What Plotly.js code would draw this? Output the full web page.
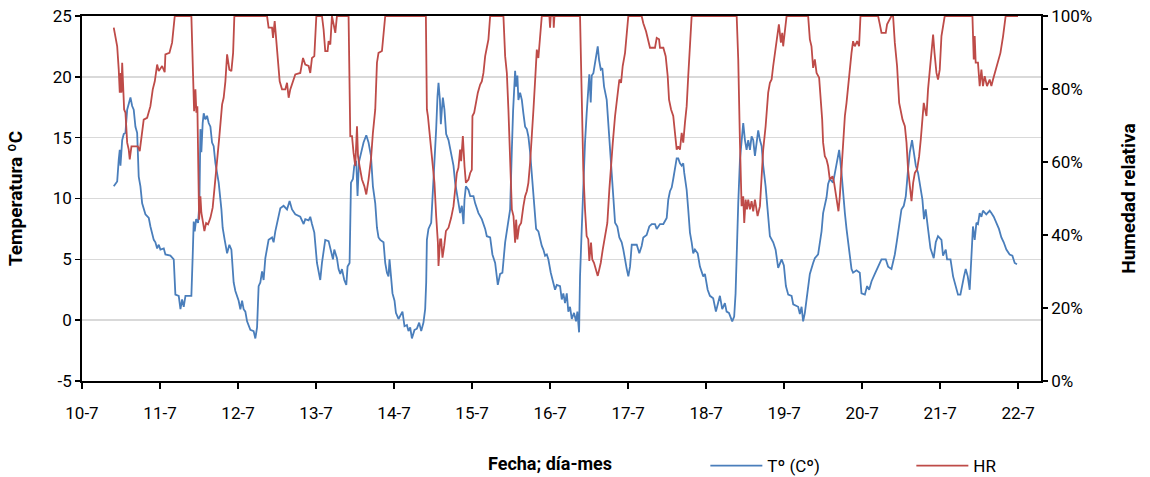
<!DOCTYPE html>
<html>
<head>
<meta charset="utf-8">
<script src="https://cdn.plot.ly/plotly-3.0.1.min.js"></script>
<style>
  html, body { margin: 0; padding: 0; background: #ffffff; }
  #chart { width: 1150px; height: 477px; }
</style>
</head>
<body>
<div id="chart"></div>
<script>
// Logger readings, 10-7 to 22-7. Time is given in days after 10-7 00:00.
const tempDay = [
  0.407,0.451,0.471,0.484,0.493,0.515,0.535,0.557,0.579,0.599,0.621,0.643,0.663,0.685,0.707,0.727,0.749,0.771,0.813,0.856,
  0.877,0.920,0.941,0.963,0.984,1.005,1.048,1.069,1.133,1.176,1.197,1.240,1.262,1.283,1.304,1.326,1.402,1.419,1.432,1.445,
  1.463,1.488,1.505,1.518,1.530,1.547,1.560,1.582,1.603,1.624,1.646,1.667,1.688,1.710,1.752,1.787,1.803,1.829,1.860,1.889,
  1.915,1.944,1.966,2.008,2.030,2.052,2.072,2.094,2.116,2.158,2.200,2.222,2.244,2.264,2.286,2.308,2.328,2.350,2.372,2.392,
  2.436,2.456,2.478,2.500,2.520,2.542,2.584,2.628,2.661,2.692,2.734,2.798,2.841,2.862,2.905,2.926,2.948,2.978,3.012,3.033,
  3.054,3.076,3.097,3.118,3.161,3.183,3.217,3.234,3.268,3.289,3.311,3.332,3.362,3.388,3.404,3.430,3.448,3.473,3.490,3.515,
  3.532,3.550,3.576,3.609,3.644,3.673,3.704,3.729,3.759,3.781,3.801,3.823,3.865,3.887,3.909,3.929,3.942,3.964,3.980,4.006,
  4.024,4.057,4.092,4.108,4.134,4.165,4.185,4.207,4.229,4.262,4.293,4.322,4.348,4.377,4.399,4.412,4.421,4.441,4.476,4.493,
  4.518,4.540,4.557,4.570,4.588,4.600,4.613,4.626,4.646,4.668,4.698,4.732,4.762,4.783,4.818,4.847,4.869,4.890,4.903,4.921,
  4.954,4.976,5.018,5.040,5.082,5.125,5.168,5.189,5.232,5.261,5.296,5.330,5.360,5.389,5.424,5.458,5.488,5.510,5.526,5.552,
  5.565,5.581,5.594,5.616,5.638,5.658,5.680,5.702,5.722,5.744,5.766,5.795,5.821,5.850,5.872,5.894,5.914,5.936,5.958,5.978,
  6.009,6.035,6.064,6.086,6.128,6.150,6.170,6.192,6.214,6.234,6.256,6.278,6.307,6.333,6.350,6.372,6.384,6.406,6.426,6.448,
  6.469,6.490,6.503,6.521,6.534,6.555,6.576,6.598,6.611,6.628,6.650,6.670,6.692,6.726,6.747,6.769,6.790,6.811,6.833,6.862,
  6.888,6.918,6.939,6.961,6.983,7.003,7.025,7.047,7.111,7.144,7.174,7.195,7.238,7.272,7.303,7.345,7.367,7.409,7.452,7.495,
  7.515,7.537,7.559,7.579,7.601,7.623,7.643,7.665,7.687,7.707,7.720,7.751,7.771,7.793,7.815,7.835,7.857,7.892,7.921,7.963,
  7.985,8.020,8.049,8.091,8.126,8.155,8.177,8.207,8.241,8.263,8.293,8.335,8.360,8.378,8.395,8.412,8.434,8.455,8.476,8.498,
  8.519,8.540,8.562,8.583,8.604,8.626,8.648,8.668,8.690,8.712,8.732,8.763,8.788,8.818,8.860,8.891,8.924,8.968,8.997,9.023,
  9.053,9.096,9.117,9.180,9.202,9.224,9.244,9.266,9.288,9.308,9.330,9.372,9.394,9.436,9.458,9.480,9.500,9.522,9.544,9.564,
  9.586,9.628,9.650,9.680,9.706,9.736,9.757,9.779,9.800,9.820,9.842,9.864,9.884,9.928,9.970,9.992,10.035,10.064,10.090,10.121,
  10.163,10.205,10.248,10.303,10.333,10.376,10.419,10.448,10.483,10.504,10.534,10.560,10.589,10.611,10.640,10.662,10.688,10.717,10.748,10.773,
  10.793,10.815,10.845,10.876,10.918,10.944,10.973,11.017,11.037,11.072,11.089,11.133,11.166,11.200,11.229,11.260,11.286,11.306,11.328,11.354,
  11.379,11.401,11.421,11.443,11.465,11.485,11.507,11.529,11.549,11.592,11.635,11.657,11.687,11.721,11.754,11.785,11.815,11.849,11.891,11.926,
  11.956,11.985
];
const tempC = [
  11.0,11.4,13.2,14.0,12.7,14.8,15.3,15.4,17.3,17.7,18.3,17.6,17.3,15.9,15.4,11.8,11.0,9.6,8.7,8.4,
  7.7,6.6,6.4,5.9,6.2,5.8,5.9,5.4,5.3,5.0,2.1,2.0,0.9,1.7,1.1,2.0,2.0,5.3,8.1,7.3,
  8.3,8.0,9.6,15.7,13.8,16.2,17.0,16.5,16.8,16.2,15.9,14.6,14.3,12.9,11.3,9.1,7.6,6.6,5.5,6.2,
  5.8,3.1,2.4,1.6,0.9,1.6,0.9,0.7,-0.1,-0.8,-0.9,-1.5,-0.6,2.8,3.1,4.0,3.3,5.1,5.8,6.6,
  6.8,6.4,7.3,8.0,8.8,9.2,9.4,9.1,9.8,9.1,8.7,8.5,7.9,8.3,8.2,8.5,7.9,7.2,4.7,4.0,
  3.3,4.7,5.9,6.6,6.5,5.8,5.0,5.8,5.1,4.2,3.8,4.2,3.3,2.9,4.4,4.7,11.3,11.6,12.7,13.1,
  10.2,13.0,13.8,14.6,15.2,14.6,13.5,11.0,9.6,7.6,6.8,6.6,6.4,4.7,3.9,3.6,5.0,3.3,2.2,1.6,
  0.6,0.1,0.6,0.7,-0.5,-0.4,-0.9,-0.6,-1.5,-0.8,-0.7,-0.2,-0.9,-0.2,0.9,3.1,6.6,7.5,8.0,9.9,
  12.7,15.7,18.4,19.5,18.1,16.1,17.3,18.3,17.3,15.3,14.8,13.8,12.7,11.3,9.9,8.8,9.4,7.9,9.9,11.0,
  10.7,10.2,10.2,9.6,8.8,8.3,7.5,6.9,6.8,5.4,4.7,2.9,3.8,3.9,6.4,7.7,9.1,14.0,17.2,20.5,
  19.2,20.1,18.1,18.7,18.1,17.0,15.9,15.7,15.1,13.8,12.1,10.2,7.5,7.3,6.6,6.1,5.8,5.3,5.4,5.0,
  3.9,3.1,2.5,2.9,2.8,1.7,2.2,1.4,2.2,0.7,1.1,0.1,0.6,-0.1,0.7,-1.0,3.6,7.5,11.8,14.6,
  17.0,19.0,20.2,17.9,20.1,20.3,21.2,22.0,22.5,21.4,20.6,20.7,19.2,18.1,15.9,13.8,11.3,10.1,8.0,7.7,
  6.8,6.4,5.8,4.8,4.2,3.6,4.4,6.2,6.2,5.5,6.1,6.8,7.0,7.7,7.9,7.9,7.5,7.9,7.9,8.4,
  9.9,10.6,10.9,11.6,12.5,13.3,13.3,12.9,12.7,12.9,12.1,10.7,9.1,7.2,6.4,5.5,5.8,5.5,4.4,3.6,
  3.8,2.5,2.0,1.8,0.7,1.4,2.0,0.9,1.4,0.7,0.6,-0.1,0.3,2.2,6.4,9.6,13.2,14.6,16.2,14.8,
  14.0,14.8,14.0,15.1,14.8,13.5,14.6,15.6,14.8,14.3,12.7,11.0,9.1,6.9,6.4,5.8,4.3,5.0,4.5,2.8,
  2.1,2.0,1.3,1.1,0.5,1.1,-0.1,0.6,1.7,2.8,3.8,4.7,5.1,5.4,6.4,7.3,8.8,9.6,10.1,11.2,
  11.6,11.3,12.1,12.9,14.0,12.1,10.2,8.8,7.5,6.4,5.1,4.2,3.9,4.1,3.9,2.2,2.1,2.8,2.5,3.2,
  3.8,4.4,5.0,5.0,4.4,4.2,5.4,6.6,8.3,9.1,9.4,10.2,12.4,13.8,14.8,14.0,12.7,12.1,11.0,9.9,
  8.3,9.1,7.5,5.9,5.1,6.4,6.9,6.6,5.3,5.8,5.0,5.0,3.6,2.9,2.1,2.1,2.8,3.6,4.2,3.6,
  2.5,5.8,7.7,6.6,8.0,7.9,8.8,8.5,9.0,8.7,9.0,8.8,8.5,8.0,7.5,6.8,6.4,5.8,5.4,5.3,
  4.7,4.6
];

const hrDay = [
  0.407,0.429,0.451,0.471,0.484,0.497,0.506,0.515,0.528,0.540,0.557,0.579,0.599,0.612,0.634,0.715,0.740,0.762,0.791,0.835,
  0.856,0.877,0.907,0.933,0.963,0.984,1.027,1.060,1.069,1.121,1.155,1.176,1.189,1.402,1.419,1.437,1.454,1.466,1.479,1.488,
  1.501,1.518,1.530,1.552,1.569,1.591,1.616,1.646,1.675,1.701,1.732,1.761,1.796,1.816,1.838,1.860,1.889,1.915,1.937,1.953,
  2.372,2.392,2.436,2.449,2.470,2.491,2.513,2.534,2.564,2.606,2.628,2.649,2.670,2.700,2.734,2.798,2.833,2.862,2.905,2.926,
  2.948,2.978,3.004,3.076,3.097,3.118,3.148,3.161,3.183,3.204,3.225,3.247,3.268,3.417,3.439,3.461,3.481,3.503,3.525,3.538,
  3.558,3.589,3.619,3.644,3.673,3.704,3.729,3.759,3.781,3.801,3.845,3.865,3.887,4.408,4.421,4.434,4.451,4.476,4.493,4.518,
  4.540,4.562,4.570,4.591,4.604,4.621,4.643,4.665,4.698,4.732,4.762,4.783,4.805,4.825,4.847,4.860,4.882,4.903,4.921,4.954,
  4.976,4.997,5.005,5.027,5.049,5.074,5.104,5.125,5.146,5.168,5.189,5.210,5.232,5.402,5.424,5.446,5.466,5.488,5.510,5.531,
  5.552,5.565,5.581,5.603,5.629,5.658,5.680,5.702,5.722,5.744,5.766,5.787,5.809,5.830,5.850,5.872,5.894,5.991,6.000,6.009,
  6.043,6.047,6.056,6.384,6.406,6.426,6.448,6.469,6.490,6.503,6.525,6.541,6.563,6.589,6.611,6.631,6.650,6.675,6.705,6.734,
  6.760,6.782,6.804,6.833,6.862,6.888,6.910,6.931,6.961,6.983,7.003,7.174,7.195,7.230,7.259,7.281,7.345,7.367,7.397,7.409,
  7.452,7.482,7.508,7.525,7.551,7.579,7.601,7.623,7.643,7.665,7.687,7.707,7.729,7.751,7.771,7.793,7.815,8.392,8.412,8.434,
  8.455,8.476,8.489,8.507,8.524,8.540,8.562,8.583,8.604,8.626,8.660,8.690,8.712,8.732,8.763,8.796,8.818,8.840,8.860,8.881,
  8.916,8.933,8.959,8.976,8.988,9.010,9.032,9.308,9.330,9.351,9.372,9.394,9.416,9.449,9.467,9.488,9.500,9.522,9.544,9.564,
  9.586,9.621,9.641,9.672,9.697,9.714,9.736,9.757,9.779,9.800,9.820,9.842,9.864,9.884,9.906,9.936,9.961,9.979,10.205,10.227,
  10.248,10.303,10.320,10.376,10.397,10.419,10.448,10.475,10.493,10.518,10.548,10.569,10.589,10.611,10.633,10.654,10.676,10.705,10.731,10.752,
  10.773,10.790,10.807,10.825,10.845,10.867,10.889,10.910,10.928,10.953,10.973,10.995,11.017,11.037,11.059,11.414,11.431,11.443,11.456,11.485,
  11.507,11.529,11.549,11.571,11.601,11.635,11.657,11.678,11.713,11.742,11.773,11.807,11.840,11.998
];
const hrPct = [
  96.8,94.5,91.7,85.3,79.0,84.4,79.0,87.2,79.0,74.4,73.5,65.3,63.4,60.7,64.3,64.3,63.0,66.2,71.6,72.1,
  74.0,75.3,79.9,82.1,86.7,84.9,86.3,84.6,89.5,89.9,92.7,96.3,100,100,88.1,73.9,79.9,73.5,75.3,56.1,
  44.2,50.6,46.1,43.3,41.1,43.3,42.9,44.7,47.5,53.4,59.8,67.1,75.8,77.6,82.1,89.5,85.3,84.9,89.9,100,
  100,96.8,96.8,94.0,98.6,93.6,88.1,82.1,79.9,79.9,81.7,77.6,79.9,81.7,84.0,84.4,88.5,86.7,86.3,84.4,
  88.5,89.0,100,100,96.3,90.4,90.4,93.1,92.2,100,97.7,95.4,100,100,67.1,67.1,62.5,58.9,69.8,61.6,
  58.9,55.2,53.4,51.1,55.2,60.7,68.0,74.4,87.2,89.9,90.4,94.5,100,100,74.4,72.6,68.9,65.3,61.6,54.3,
  45.2,37.9,31.5,38.8,38.8,33.8,37.0,41.1,42.0,44.7,47.9,52.5,57.0,58.4,63.4,60.2,67.1,58.9,54.3,55.2,
  57.0,57.9,72.6,73.5,76.2,79.0,81.2,82.1,84.4,89.0,91.3,93.6,100,100,89.0,84.4,74.4,58.0,47.0,45.2,
  37.9,44.2,38.8,42.4,43.3,47.9,50.6,52.0,54.3,59.8,66.2,74.4,82.6,90.8,88.5,94.5,100,100,96.8,100,
  100,96.8,100,100,74.4,57.9,47.0,39.7,38.8,32.9,37.9,33.3,32.4,30.6,28.8,30.6,32.4,36.0,39.7,43.3,
  52.5,59.8,65.3,72.6,78.0,82.6,81.7,86.3,89.9,94.5,100,100,98.0,95.8,93.6,91.3,91.3,94.0,93.6,91.3,
  91.3,89.0,83.5,77.1,74.4,72.6,68.0,63.4,64.3,63.4,68.0,65.3,70.7,75.3,83.5,91.7,100,100,88.1,65.3,
  47.9,50.6,43.3,49.7,47.0,49.7,47.0,49.3,46.5,49.7,45.2,47.9,55.2,63.4,69.8,79.0,81.7,82.6,86.3,89.9,
  95.4,97.7,92.7,95.4,91.7,96.3,100,100,93.6,91.7,85.8,88.1,84.4,83.1,78.0,71.6,65.3,61.6,60.7,58.9,
  55.2,56.1,54.3,50.6,46.5,50.6,58.9,66.2,72.6,76.2,80.8,85.3,89.9,93.1,91.7,93.1,91.7,100,100,97.7,
  95.4,95.4,97.7,100,100,92.7,86.3,76.2,74.4,71.6,69.8,65.3,57.9,54.3,49.3,54.3,57.0,58.0,61.6,66.2,
  70.7,76.2,74.4,72.6,79.9,85.3,89.9,94.9,89.9,84.4,82.6,85.3,94.5,97.2,100,100,88.1,94.5,87.2,87.2,
  80.8,85.3,80.8,83.5,80.8,82.6,80.8,82.6,85.3,88.1,89.9,94.5,100,100
];

// Axis setup
const dayTicks = ['10-7','11-7','12-7','13-7','14-7','15-7','16-7','17-7','18-7','19-7','20-7','21-7','22-7'];
const tempTicks = [-5, 0, 5, 10, 15, 20, 25];
const hrTicks = [0, 20, 40, 60, 80, 100];

const DAY_MS = 86400000;
const start = Date.UTC(2013, 6, 10);
const toTime = d => start + d * DAY_MS;

const blue = '#4a7ebb';
const red = '#be4b48';
const font = 'Roboto, "Liberation Sans", sans-serif';

const traces = [
  {
    x: tempDay.map(toTime), y: tempC, name: 'Tº (Cº)',
    type: 'scatter', mode: 'lines', yaxis: 'y',
    line: { color: blue, width: 1.8 }
  },
  {
    x: hrDay.map(toTime), y: hrPct, name: 'HR',
    type: 'scatter', mode: 'lines', yaxis: 'y2',
    line: { color: red, width: 1.8 }
  }
];

const layout = {
  width: 1150, height: 477,
  margin: { l: 82, r: 109, t: 16, b: 96, autoexpand: false },
  paper_bgcolor: '#ffffff', plot_bgcolor: '#ffffff',
  font: { family: font, size: 17, color: '#000000' },
  showlegend: true,
  legend: {
    orientation: 'h', x: 0.65, y: -0.233, xanchor: 'left', yanchor: 'middle',
    font: { family: font, size: 17, color: '#000000' },
    entrywidth: 139, itemwidth: 52, bgcolor: 'rgba(0,0,0,0)'
  },
  xaxis: {
    type: 'date', automargin: false,
    range: [toTime(0), toTime(12.293)],
    tickmode: 'array',
    tickvals: dayTicks.map((_, i) => toTime(i)),
    ticktext: dayTicks,
    ticks: 'outside', ticklen: 6, tickwidth: 1.5, tickcolor: '#000000',
    ticklabelstandoff: 10,
    showline: true, linecolor: '#000000', linewidth: 1.8, mirror: true,
    showgrid: false, zeroline: false,
    tickfont: { family: font, size: 17, color: '#000000' }
  },
  yaxis: {
    range: [-5, 25], automargin: false,
    tickmode: 'array', tickvals: tempTicks, ticktext: tempTicks.map(String),
    ticks: 'outside', ticklen: 5, tickwidth: 1.5, tickcolor: '#000000',
    showline: true, linecolor: '#000000', linewidth: 1.8,
    showgrid: true, gridcolor: '#d9d9d9', gridwidth: 1.5,
    zeroline: false,
    tickfont: { family: font, size: 17, color: '#000000' },
    title: { text: 'Temperatura ºC', font: { family: font, size: 19, color: '#000000', weight: 'bold' }, standoff: 25 }
  },
  yaxis2: {
    overlaying: 'y', side: 'right', automargin: false,
    range: [0, 100],
    tickmode: 'array', tickvals: hrTicks, ticktext: hrTicks.map(v => v + '%'),
    ticks: 'outside', ticklen: 5, tickwidth: 1.5, tickcolor: '#000000',
    showline: true, linecolor: '#000000', linewidth: 1.8,
    showgrid: false, zeroline: false,
    tickfont: { family: font, size: 17, color: '#000000' },
    title: { text: 'Humedad relativa', font: { family: font, size: 19, color: '#000000', weight: 'bold' }, standoff: 30 }
  },
  annotations: [
    {
      text: 'Fecha; día-mes', xref: 'paper', yref: 'paper',
      x: 0.488, y: -0.225, xanchor: 'center', yanchor: 'middle', showarrow: false,
      font: { family: font, size: 18, color: '#000000', weight: 'bold' }
    }
  ]
};

Plotly.newPlot('chart', traces, layout, { displayModeBar: false, staticPlot: true });
</script>
</body>
</html>
